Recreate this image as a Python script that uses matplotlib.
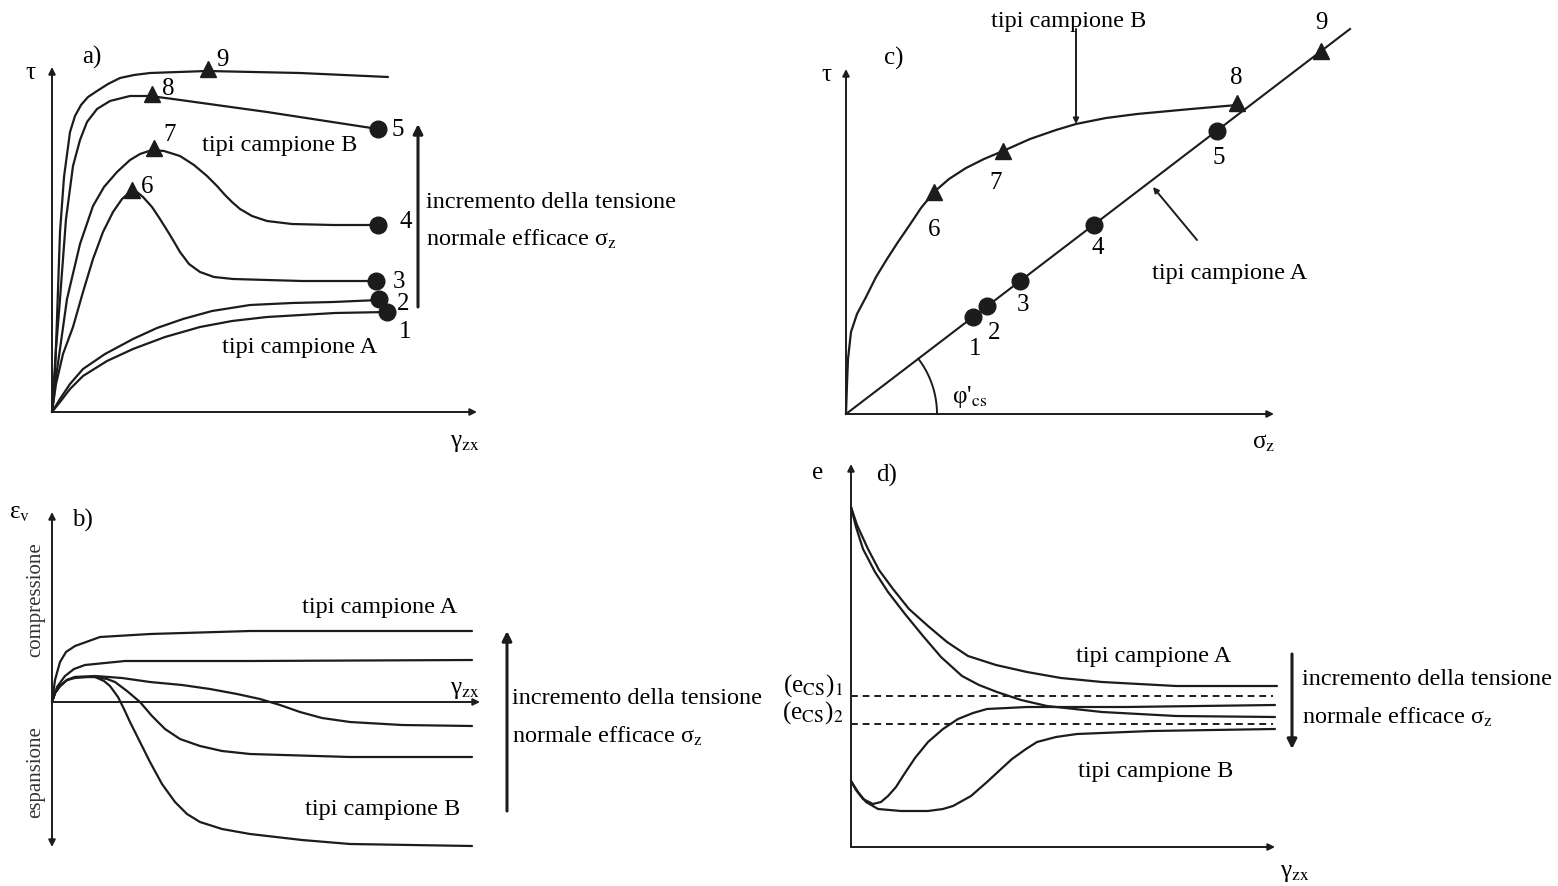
import numpy as np
import matplotlib.pyplot as plt

plt.rcParams['font.family'] = ['Liberation Serif', 'DejaVu Serif']
plt.rcParams['mathtext.fontset'] = 'stix'

INK = '#1c1c1c'
FS = 17.5
LFS = 18

# ---------------- a) tau - gamma ----------------
a_c9 = [(0, 0), (3, 40), (5, 93), (8, 180), (12, 235), (18, 280), (23, 296), (29, 307),
        (36, 315), (45, 321), (56, 328), (68, 334), (82, 337), (98, 339), (155, 341),
        (248, 339), (336, 335)]
a_c8 = [(0, 0), (4, 63), (8, 113), (14, 193), (21, 246), (28, 272), (35, 290), (45, 303),
        (58, 311), (78, 316), (98, 316), (121, 313), (215, 300), (326, 283)]
a_c7 = [(0, 0), (4, 35), (8, 63), (15, 113), (28, 168), (41, 206), (52, 225), (65, 240),
        (78, 252), (88, 258), (100, 262), (112, 261), (128, 256), (142, 247), (155, 236),
        (165, 226), (173, 217), (180, 210), (188, 203), (200, 196), (215, 191), (240, 188),
        (281, 187), (326, 187)]
a_c6 = [(0, 0), (4, 28), (11, 58), (21, 85), (31, 120), (41, 153), (51, 180), (61, 200),
        (70, 213), (78, 220), (85, 220), (91, 215), (100, 205), (108, 193), (118, 177),
        (128, 160), (137, 148), (148, 140), (162, 135), (181, 133), (250, 131), (324, 131)]
a_c2 = [(0, 0), (8, 13), (18, 28), (31, 43), (53, 58), (81, 73), (105, 84), (131, 93),
        (160, 101), (198, 107), (240, 109), (281, 110), (327, 112)]
a_c1 = [(0, 0), (8, 10), (18, 23), (31, 36), (55, 51), (81, 63), (113, 75), (148, 85),
        (180, 91), (215, 95), (283, 99), (335, 100)]
a_tri = [(156, 343), (100, 318), (102, 264), (80, 222)]
a_tri_lab = ['9', '8', '7', '6']
a_tri_txt = [(170, 353), (116, 324), (118, 278), (95, 226)]
a_dot = [(326, 283), (326, 187), (324, 131), (327, 113), (335, 100)]
a_dot_lab = ['5', '4', '3', '2', '1']
a_dot_txt = [(346, 283), (354, 191), (347, 131), (351, 109), (353, 81)]

# ---------------- b) eps_v - gamma ----------------
b_curves = [
    [(0, 0), (3, 22), (8, 40), (14, 50), (23, 56), (48, 65), (98, 68), (198, 71), (420, 71)],
    [(0, 0), (5, 15), (13, 26), (22, 33), (33, 37), (73, 41), (198, 41), (420, 42)],
    [(0, 0), (3, 9), (8, 16), (15, 22), (23, 25), (43, 26), (70, 24), (98, 20), (130, 17),
     (158, 13), (185, 8), (208, 3), (228, -3), (248, -10), (270, -16), (298, -20),
     (350, -23), (420, -24)],
    [(0, 0), (3, 9), (8, 16), (15, 22), (23, 25), (43, 25), (55, 23), (63, 20), (75, 11),
     (88, 0), (100, -14), (113, -27), (128, -37), (148, -44), (170, -49), (198, -52),
     (298, -55), (420, -55)],
    [(0, 0), (3, 9), (8, 16), (15, 22), (23, 24), (35, 25), (43, 25), (52, 21), (58, 16),
     (66, 5), (72, -7), (78, -20), (88, -40), (98, -60), (110, -82), (123, -100),
     (135, -112), (148, -120), (170, -127), (198, -132), (250, -138), (298, -142),
     (420, -144)],
]

# ---------------- c) tau - sigma ----------------
c_line_end = (504, 385)
c_curve = [(0, 0), (1, 30), (2, 55), (5, 82), (11, 100), (20, 117), (30, 137), (41, 155),
           (52, 172), (63, 188), (75, 206), (88, 222), (103, 235), (120, 246), (138, 255),
           (157, 263), (184, 275), (210, 284), (230, 290), (260, 296), (291, 300),
           (345, 305), (391, 309)]
c_tri = [(88, 222), (157, 263), (391, 311), (475, 363)]
c_tri_lab = ['6', '7', '8', '9']
c_tri_txt = [(88, 185), (150, 232), (390, 337), (475, 392)]
c_dot = [(127, 97), (141, 108), (174, 133), (248, 189), (371, 283)]
c_dot_lab = ['1', '2', '3', '4', '5']
c_dot_txt = [(129, 66), (148, 82), (177, 110), (252, 167), (373, 257)]
c_phi_deg = np.degrees(np.arctan2(c_line_end[1], c_line_end[0]))

# ---------------- d) e - gamma ----------------
d_curves = [
    [(0, 340), (6, 322), (17, 298), (28, 277), (42, 258), (58, 238), (77, 221), (96, 205),
     (117, 191), (145, 182), (176, 175), (210, 169), (251, 165), (325, 161), (426, 161)],
    [(0, 340), (5, 320), (12, 298), (24, 275), (37, 255), (54, 233), (72, 211), (90, 190),
     (111, 171), (128, 162), (146, 155), (170, 147), (196, 141), (251, 135), (325, 131),
     (424, 130)],
    [(0, 66), (5, 57), (12, 48), (22, 43), (30, 45), (37, 51), (45, 60), (52, 71), (64, 89),
     (77, 105), (92, 118), (107, 128), (122, 134), (136, 138), (176, 140), (275, 140),
     (424, 142)],
    [(0, 66), (7, 55), (15, 45), (27, 38), (50, 36), (77, 36), (92, 38), (102, 41),
     (120, 51), (136, 65), (149, 77), (161, 88), (175, 98), (186, 105), (205, 110),
     (226, 113), (300, 116), (424, 118)],
]
d_ecs = [151, 123]
d_ecs_lab = [r'(e$_{\mathrm{CS}}$)$_1$', r'(e$_{\mathrm{CS}}$)$_2$']
d_ecs_txt_y = [162, 135]

fig = plt.figure(figsize=(15.58, 8.87), dpi=100)


def panel(ox, oy):
    # one transparent axes per panel, 1 unit = 1 px, origin at the axes corner
    ax = fig.add_axes([0, 0, 1, 1])
    ax.set_xlim(-ox, 1558 - ox)
    ax.set_ylim(oy - 887, oy)
    ax.axis('off')
    ax.patch.set_alpha(0)
    return ax


def arrow(ax, p0, p1, lw=1.5, ms=12, both=False):
    style = '<|-|>' if both else '-|>'
    ax.annotate('', xy=p1, xytext=p0,
                arrowprops=dict(arrowstyle=style, lw=lw, color=INK,
                                mutation_scale=ms, shrinkA=0, shrinkB=0))


def curve(ax, pts, **kw):
    pts = np.array(pts, dtype=float)
    ax.plot(pts[:, 0], pts[:, 1], color=INK, lw=1.6, solid_joinstyle='round',
            solid_capstyle='round', **kw)


def stress_note(ax, x, y):
    ax.text(x, y, 'incremento della tensione', fontsize=FS, va='center', ha='left')
    ax.text(x, y - 37, r'normale efficace σ$_{\mathrm{z}}$', fontsize=FS,
            va='center', ha='left')


# a)
ax = panel(52, 413)
arrow(ax, (0, 0), (0, 345), lw=1.4, ms=10)
arrow(ax, (0, 0), (425, 0), lw=1.4, ms=10)
for c in (a_c9, a_c8, a_c7, a_c6, a_c2, a_c1):
    curve(ax, c)
tx, ty = zip(*a_tri)
ax.plot(tx, ty, '^', color=INK, ms=12, ls='none')
dx, dy = zip(*a_dot)
ax.plot(dx, dy, 'o', color=INK, ms=12, ls='none')
for lab, (x, y) in zip(a_tri_lab + a_dot_lab, a_tri_txt + a_dot_txt):
    ax.text(x, y, lab, fontsize=LFS, ha='center', va='center')
arrow(ax, (366, 105), (366, 288), lw=2.2, ms=14)
ax.text(228, 268, 'tipi campione B', fontsize=FS, ha='center', va='center')
ax.text(248, 65, 'tipi campione A', fontsize=FS, ha='center', va='center')
stress_note(ax, 374, 211)
ax.text(-22, 340, 'τ', fontsize=LFS, ha='center', va='center')
ax.text(40, 356, 'a)', fontsize=LFS, ha='center', va='center')
ax.text(413, -30, r'γ$_{\mathrm{zx}}$', fontsize=LFS, ha='center', va='center')

# b)
ax = panel(52, 703)
arrow(ax, (0, -145), (0, 190), lw=1.4, ms=10, both=True)
arrow(ax, (0, 0), (428, 0), lw=1.4, ms=10)
for c in b_curves:
    curve(ax, c)
arrow(ax, (455, -109), (455, 71), lw=2.2, ms=14)
ax.text(328, 95, 'tipi campione A', fontsize=FS, ha='center', va='center')
ax.text(331, -107, 'tipi campione B', fontsize=FS, ha='center', va='center')
stress_note(ax, 460, 4)
ax.text(-32, 190, r'ε$_{\mathrm{v}}$', fontsize=LFS, ha='center', va='center')
ax.text(30, 183, 'b)', fontsize=LFS, ha='center', va='center')
ax.text(413, 13, r'γ$_{\mathrm{zx}}$', fontsize=LFS, ha='center', va='center')
ax.text(-16, 103, 'compressione', fontsize=15, rotation=90, ha='center', va='center',
        color='#333333')
ax.text(-16, -69, 'espansione', fontsize=15, rotation=90, ha='center', va='center',
        color='#333333')

# c)
ax = panel(846, 415)
arrow(ax, (0, 0), (0, 345), lw=1.4, ms=10)
arrow(ax, (0, 0), (428, 0), lw=1.4, ms=10)
ax.plot([0, c_line_end[0]], [0, c_line_end[1]], color=INK, lw=1.5)
curve(ax, c_curve)
tx, ty = zip(*c_tri)
ax.plot(tx, ty, '^', color=INK, ms=12, ls='none')
dx, dy = zip(*c_dot)
ax.plot(dx, dy, 'o', color=INK, ms=12, ls='none')
for lab, (x, y) in zip(c_tri_lab + c_dot_lab, c_tri_txt + c_dot_txt):
    ax.text(x, y, lab, fontsize=LFS, ha='center', va='center')
th = np.radians(np.linspace(0, c_phi_deg, 40))
ax.plot(91 * np.cos(th), 91 * np.sin(th), color=INK, lw=1.4)
ax.text(124, 18, r"φ'$_{\mathrm{cs}}$", fontsize=LFS, ha='center', va='center')
ax.text(223, 394, 'tipi campione B', fontsize=FS, ha='center', va='center')
arrow(ax, (230, 385), (230, 290), lw=1.4, ms=8)
ax.text(384, 142, 'tipi campione A', fontsize=FS, ha='center', va='center')
arrow(ax, (351, 174), (307, 227), lw=1.4, ms=8)
ax.text(-20, 340, 'τ', fontsize=LFS, ha='center', va='center')
ax.text(48, 357, 'c)', fontsize=LFS, ha='center', va='center')
ax.text(418, -28, r'σ$_{\mathrm{z}}$', fontsize=LFS, ha='center', va='center')

# d)
ax = panel(851, 848)
arrow(ax, (0, 0), (0, 383), lw=1.4, ms=10)
arrow(ax, (0, 0), (424, 0), lw=1.4, ms=10)
for c in d_curves:
    curve(ax, c)
for y in d_ecs:
    ax.plot([0, 422], [y, y], color=INK, lw=1.4, ls=(0, (3.5, 2.5)))
for lab, y in zip(d_ecs_lab, d_ecs_txt_y):
    ax.text(-8, y, lab, fontsize=LFS, ha='right', va='center')
arrow(ax, (441, 193), (441, 98), lw=2.2, ms=14)
stress_note(ax, 451, 168)
ax.text(303, 191, 'tipi campione A', fontsize=FS, ha='center', va='center')
ax.text(305, 76, 'tipi campione B', fontsize=FS, ha='center', va='center')
ax.text(-33, 375, 'e', fontsize=LFS, ha='center', va='center')
ax.text(36, 373, 'd)', fontsize=LFS, ha='center', va='center')
ax.text(444, -25, r'γ$_{\mathrm{zx}}$', fontsize=LFS, ha='center', va='center')

fig.savefig('out.png', dpi=100, facecolor='white')
